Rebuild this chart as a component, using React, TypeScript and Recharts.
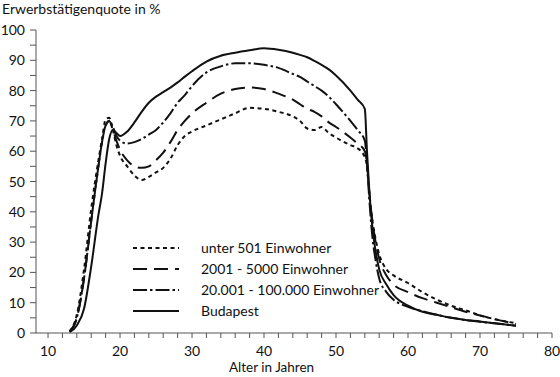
import React from "react";
import { LineChart, Line, XAxis, YAxis, Legend } from "recharts";

// age in years
const ages = [
  13, 14, 15, 16, 17, 17.5, 18, 18.5, 19, 19.5, 20, 21, 22, 23, 24, 25, 26, 27, 28, 29,
  30, 32, 34, 36, 38, 40, 42, 44, 45, 46, 47, 48, 49, 50, 52, 53, 54, 54.3, 54.6, 55,
  55.5, 56, 57, 58, 60, 62, 64, 66, 68, 70, 72, 75,
];

// Erwerbstätigenquote in %
const unter501 = [
  0.5, 6, 21, 41, 57, 64, 70.5, 71, 67, 62, 58.5, 55, 52, 50.5, 51.5, 53, 54.5, 57.5, 62, 65,
  66.5, 68.5, 70.5, 72.5, 74.3, 74, 73, 71.5, 70, 67.5, 67, 68, 66, 64.5, 62, 61, 58, 55, 47, 38,
  31, 26, 21, 19, 16.5, 13.5, 11, 9, 7.5, 5.8, 4.6, 3.2,
];
const bis5000 = [
  0.5, 5, 18, 37, 55, 63, 68.5, 70, 67, 63.5, 60.5, 57, 55, 54.5, 55, 57, 59.5, 63, 67, 70,
  72.5, 76, 79, 80.5, 81, 80.5, 79, 77, 75.5, 74, 73, 71.5, 69.5, 68, 64.5, 62.5, 60, 56, 47, 38,
  30, 24.5, 19, 16, 13.5, 11.5, 10, 8.5, 7, 5.8, 4.6, 3,
];
const bis100000 = [
  0.5, 5, 18, 37, 55, 63, 68.5, 70, 68, 65, 63.5, 62.5, 63, 64, 65.5, 67, 69.5, 72.5, 76, 78.5,
  81.5, 86, 88, 89, 89, 88.5, 87.5, 85.5, 84.5, 83, 81.5, 80, 78, 75.5, 70, 67, 63.5, 56, 45, 33,
  24, 18, 13.5, 11, 8.6, 7.2, 6, 5, 4.3, 3.7, 3.2, 2.4,
];
const budapest = [
  0.3, 2.5, 8, 22, 39, 46, 56, 64, 67, 66, 65, 66.5, 69.5, 73, 76, 78, 79.5, 81, 82.7, 84.6,
  86.4, 89.6, 91.5, 92.5, 93.3, 94, 93.5, 92.5, 91.8, 91, 89.8, 88.5, 87, 85, 80, 77, 74, 60, 48, 36,
  27, 21, 16, 12.5, 9, 7, 6, 5, 4.3, 3.8, 3.2, 2.4,
];

const seriesNames = [
  "unter 501 Einwohner",
  "2001 - 5000 Einwohner",
  "20.001 - 100.000 Einwohner",
  "Budapest",
];
const seriesValues = [unter501, bis5000, bis100000, budapest];
const dashes = ["4 3.5", "14 7", "14 3 2.5 3", ""];

const xTicks = [10, 12, 14, 16, 18, 20, 22, 24, 26, 28, 30, 32, 34, 36, 38, 40, 42, 44, 46, 48, 50, 52, 54, 56, 58, 60, 62, 64, 66, 68, 70, 72, 74, 76, 78, 80];
const yTicks = [0, 5, 10, 15, 20, 25, 30, 35, 40, 45, 50, 55, 60, 65, 70, 75, 80, 85, 90, 95, 100];

const data = ages.map((age, i) => {
  const row: any = { age };
  seriesValues.forEach((vals, k) => (row["s" + k] = vals[i]));
  return row;
});

const FONT = "Lato, 'Open Sans', sans-serif";
const INK = "#111";
const AXIS = "#555";

const XTick = ({ x, y, payload }: any) =>
  payload.value % 10 === 0 ? (
    <text x={x} y={y + 16} textAnchor="middle" fontSize={14} fontFamily={FONT} fill={INK}>
      {payload.value}
    </text>
  ) : null;

const YTick = ({ x, y, payload }: any) =>
  payload.value % 10 === 0 ? (
    <text x={x - 3} y={y + 5} textAnchor="end" fontSize={14} fontFamily={FONT} fill={INK}>
      {payload.value}
    </text>
  ) : null;

const LegendBox = () => (
  <div style={{ fontFamily: FONT, fontSize: 14, color: INK }}>
    {seriesNames.map((name, k) => (
      <div key={name} style={{ display: "flex", alignItems: "center", height: 21 }}>
        <svg width={48} height={10}>
          <line x1={0} y1={5} x2={46} y2={5} stroke={INK} strokeWidth={2.2} strokeDasharray={dashes[k] || undefined} />
        </svg>
        <span style={{ marginLeft: 20 }}>{name}</span>
      </div>
    ))}
  </div>
);

export default function App() {
  return (
    <div style={{ position: "absolute", left: 0, top: 0, width: 560, height: 377, background: "#fff" }}>
      <div style={{ position: "absolute", left: 2, top: 0, fontFamily: FONT, fontSize: 14, color: INK }}>
        Erwerbstätigenquote in %
      </div>
      <LineChart width={560} height={377} data={data} margin={{ top: 30, right: 8, left: 0, bottom: 14 }}>
        <XAxis
          type="number"
          dataKey="age"
          domain={[8.33, 80]}
          ticks={xTicks}
          interval={0}
          allowDataOverflow
          height={30}
          tickSize={5}
          tick={<XTick />}
          axisLine={{ stroke: AXIS }}
          tickLine={{ stroke: AXIS }}
        />
        <YAxis
          type="number"
          domain={[0, 100]}
          ticks={yTicks}
          interval={0}
          width={36}
          tickSize={6}
          tick={<YTick />}
          axisLine={{ stroke: AXIS }}
          tickLine={{ stroke: AXIS }}
        />
        <Legend
          layout="vertical"
          align="center"
          verticalAlign="middle"
          content={<LegendBox />}
          wrapperStyle={{ left: 133, top: 237, width: 290 }}
        />
        {seriesValues.map((_, k) => (
          <Line
            key={k}
            type="monotone"
            dataKey={"s" + k}
            stroke={INK}
            strokeWidth={2}
            strokeDasharray={dashes[k] || undefined}
            dot={false}
            isAnimationActive={false}
          />
        ))}
      </LineChart>
      <div style={{ position: "absolute", left: 229, top: 359, fontFamily: FONT, fontSize: 13.5, color: INK }}>
        Alter in Jahren
      </div>
    </div>
  );
}
